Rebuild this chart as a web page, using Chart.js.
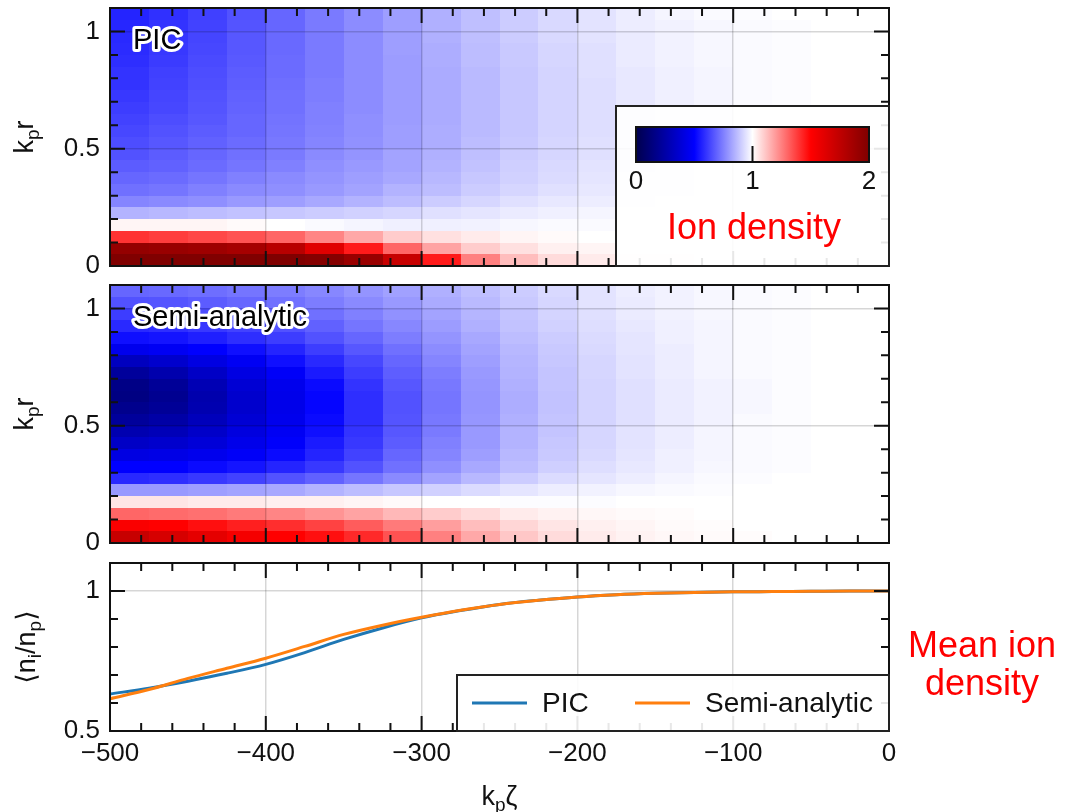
<!DOCTYPE html>
<html>
<head>
<meta charset="utf-8">
<script src="https://cdn.jsdelivr.net/npm/chart.js@4.4.0/dist/chart.umd.min.js"></script>
<style>
  html, body { margin: 0; padding: 0; background: #fff; }
  body { width: 1065px; height: 812px; position: relative; overflow: hidden; font-family: 'Liberation Sans', Arial, sans-serif; }
  canvas { position: absolute; left: 0; }
  .note { position: absolute; color: #ff0000; font-size: 36px; line-height: 38px; white-space: nowrap; }
</style>
</head>
<body>
<canvas id="picChart" width="1065" height="280" style="top:0"></canvas>
<canvas id="semiChart" width="1065" height="273" style="top:277px"></canvas>
<canvas id="meanChart" width="1065" height="262" style="top:550px"></canvas>
<div class="note" style="left:667px; top:208px;">Ion density</div>
<div class="note" style="left:902px; top:626px; width:160px; text-align:center;">Mean ion<br>density</div>
<script>
// k_p zeta: cell edges of the density maps and sample points of the mean curves
const zeta = [-500, -475, -450, -425, -400, -375, -350, -325, -300, -275, -250,
  -225, -200, -175, -150, -125, -100, -75, -50, -25, 0];
// k_p r: cell edges of the density maps
const rEdges = [0, 0.05, 0.1, 0.15, 0.2, 0.25, 0.3, 0.35, 0.4, 0.45, 0.5, 0.55,
  0.6, 0.65, 0.7, 0.75, 0.8, 0.85, 0.9, 0.95, 1.0, 1.05, 1.1];

const xTicks = [-500, -400, -300, -200, -100, 0];
const xMinorTicks = [-480, -460, -440, -420, -380, -360, -340, -320, -280, -260,
  -240, -220, -180, -160, -140, -120, -80, -60, -40, -20];
const rTicks = [0, 0.5, 1];
const rMinorTicks = [0.1, 0.2, 0.3, 0.4, 0.6, 0.7, 0.8, 0.9];
const meanTicks = [0.5, 1];
const meanMinorTicks = [0.6, 0.7, 0.8, 0.9];
const colorbarTicks = [0, 1, 2];

// ion density n_i/n_p, one row per r cell (bottom to top), one value per zeta cell
const picDensity = [
  [2.0, 2.0, 2.0, 2.0, 2.0, 1.98, 1.9, 1.72, 1.45, 1.25, 1.13, 1.07, 1.04, 1.03, 1.02, 1.01, 1.01, 1.0, 1.0, 1.0],
  [1.92, 1.9, 1.88, 1.85, 1.78, 1.62, 1.45, 1.3, 1.18, 1.1, 1.06, 1.03, 1.02, 1.01, 1.01, 1.0, 1.0, 1.0, 1.0, 1.0],
  [1.4, 1.38, 1.36, 1.34, 1.3, 1.24, 1.17, 1.1, 1.06, 1.04, 1.02, 1.01, 1.0, 1.0, 1.0, 1.0, 1.0, 1.0, 1.0, 1.0],
  [1.02, 1.02, 1.02, 1.01, 1.0, 0.99, 0.98, 0.97, 0.97, 0.975, 0.985, 0.99, 0.99, 0.995, 1.0, 1.0, 1.0, 1.0, 1.0, 1.0],
  [0.85, 0.86, 0.87, 0.88, 0.89, 0.9, 0.91, 0.92, 0.94, 0.95, 0.96, 0.97, 0.98, 0.985, 0.99, 0.995, 1.0, 1.0, 1.0, 1.0],
  [0.76, 0.77, 0.78, 0.8, 0.81, 0.83, 0.85, 0.87, 0.9, 0.92, 0.94, 0.955, 0.965, 0.975, 0.985, 0.99, 0.995, 1.0, 1.0, 1.0],
  [0.72, 0.73, 0.75, 0.77, 0.78, 0.8, 0.82, 0.85, 0.87, 0.9, 0.92, 0.94, 0.955, 0.97, 0.98, 0.99, 0.995, 1.0, 1.0, 1.0],
  [0.7, 0.71, 0.73, 0.75, 0.77, 0.79, 0.81, 0.83, 0.86, 0.89, 0.91, 0.93, 0.95, 0.965, 0.975, 0.985, 0.99, 0.995, 1.0, 1.0],
  [0.68, 0.69, 0.71, 0.73, 0.75, 0.78, 0.8, 0.82, 0.85, 0.88, 0.905, 0.925, 0.945, 0.96, 0.975, 0.985, 0.99, 0.995, 1.0, 1.0],
  [0.66, 0.68, 0.7, 0.72, 0.74, 0.77, 0.79, 0.82, 0.845, 0.875, 0.9, 0.92, 0.94, 0.96, 0.97, 0.98, 0.99, 0.995, 1.0, 1.0],
  [0.65, 0.67, 0.69, 0.71, 0.735, 0.76, 0.785, 0.81, 0.84, 0.87, 0.895, 0.92, 0.94, 0.955, 0.97, 0.98, 0.99, 0.995, 1.0, 1.0],
  [0.64, 0.66, 0.68, 0.7, 0.73, 0.755, 0.78, 0.81, 0.84, 0.865, 0.89, 0.915, 0.935, 0.955, 0.97, 0.98, 0.99, 0.995, 1.0, 1.0],
  [0.63, 0.65, 0.67, 0.7, 0.725, 0.75, 0.78, 0.805, 0.835, 0.865, 0.89, 0.915, 0.935, 0.955, 0.97, 0.98, 0.99, 0.995, 1.0, 1.0],
  [0.62, 0.64, 0.665, 0.695, 0.72, 0.75, 0.775, 0.805, 0.835, 0.865, 0.89, 0.915, 0.935, 0.955, 0.97, 0.98, 0.99, 0.995, 1.0, 1.0],
  [0.61, 0.635, 0.66, 0.69, 0.72, 0.745, 0.775, 0.805, 0.835, 0.865, 0.89, 0.915, 0.935, 0.955, 0.97, 0.98, 0.99, 0.995, 1.0, 1.0],
  [0.6, 0.63, 0.655, 0.685, 0.715, 0.745, 0.775, 0.805, 0.835, 0.865, 0.89, 0.915, 0.935, 0.955, 0.97, 0.98, 0.99, 0.995, 1.0, 1.0],
  [0.6, 0.625, 0.65, 0.68, 0.71, 0.74, 0.775, 0.805, 0.835, 0.865, 0.89, 0.915, 0.94, 0.955, 0.97, 0.98, 0.99, 0.995, 1.0, 1.0],
  [0.59, 0.615, 0.645, 0.675, 0.71, 0.74, 0.775, 0.805, 0.84, 0.87, 0.895, 0.92, 0.94, 0.96, 0.975, 0.985, 0.99, 0.995, 1.0, 1.0],
  [0.585, 0.61, 0.64, 0.67, 0.705, 0.74, 0.775, 0.81, 0.84, 0.87, 0.895, 0.92, 0.94, 0.96, 0.975, 0.985, 0.99, 0.995, 1.0, 1.0],
  [0.58, 0.605, 0.635, 0.67, 0.705, 0.74, 0.775, 0.81, 0.845, 0.875, 0.9, 0.925, 0.945, 0.96, 0.975, 0.985, 0.99, 0.995, 1.0, 1.0],
  [0.575, 0.6, 0.63, 0.665, 0.7, 0.74, 0.775, 0.81, 0.845, 0.875, 0.9, 0.925, 0.945, 0.965, 0.975, 0.985, 0.99, 0.995, 1.0, 1.0],
  [0.57, 0.595, 0.625, 0.66, 0.7, 0.74, 0.775, 0.81, 0.845, 0.875, 0.9, 0.925, 0.945, 0.965, 0.98, 0.99, 0.995, 1.0, 1.0, 1.0]
];

const semiDensity = [
  [1.72, 1.66, 1.6, 1.54, 1.5, 1.47, 1.42, 1.34, 1.25, 1.17, 1.11, 1.07, 1.04, 1.025, 1.015, 1.01, 1.005, 1.0, 1.0, 1.0],
  [1.52, 1.5, 1.47, 1.44, 1.41, 1.37, 1.32, 1.26, 1.19, 1.13, 1.08, 1.05, 1.03, 1.02, 1.01, 1.005, 1.0, 1.0, 1.0, 1.0],
  [1.3, 1.29, 1.28, 1.26, 1.24, 1.21, 1.18, 1.14, 1.1, 1.07, 1.04, 1.025, 1.015, 1.01, 1.005, 1.0, 1.0, 1.0, 1.0, 1.0],
  [1.05, 1.05, 1.04, 1.04, 1.03, 1.03, 1.02, 1.01, 1.0, 1.0, 0.995, 0.995, 0.995, 1.0, 1.0, 1.0, 1.0, 1.0, 1.0, 1.0],
  [0.8, 0.8, 0.81, 0.82, 0.83, 0.85, 0.87, 0.89, 0.91, 0.93, 0.95, 0.965, 0.975, 0.985, 0.99, 0.995, 1.0, 1.0, 1.0, 1.0],
  [0.58, 0.59, 0.61, 0.63, 0.66, 0.69, 0.73, 0.77, 0.82, 0.86, 0.9, 0.93, 0.95, 0.965, 0.98, 0.99, 0.995, 1.0, 1.0, 1.0],
  [0.5, 0.5, 0.52, 0.54, 0.57, 0.61, 0.66, 0.72, 0.78, 0.83, 0.87, 0.905, 0.935, 0.955, 0.97, 0.985, 0.99, 0.995, 1.0, 1.0],
  [0.42, 0.43, 0.45, 0.48, 0.52, 0.57, 0.63, 0.7, 0.76, 0.81, 0.86, 0.895, 0.925, 0.95, 0.97, 0.98, 0.99, 0.995, 1.0, 1.0],
  [0.34, 0.36, 0.39, 0.44, 0.49, 0.55, 0.61, 0.68, 0.75, 0.8, 0.85, 0.89, 0.92, 0.945, 0.965, 0.98, 0.99, 0.995, 1.0, 1.0],
  [0.28, 0.3, 0.35, 0.41, 0.47, 0.53, 0.6, 0.67, 0.74, 0.8, 0.85, 0.885, 0.92, 0.945, 0.965, 0.98, 0.99, 0.995, 1.0, 1.0],
  [0.22, 0.25, 0.31, 0.38, 0.45, 0.52, 0.59, 0.665, 0.735, 0.795, 0.845, 0.885, 0.915, 0.94, 0.96, 0.975, 0.99, 0.995, 1.0, 1.0],
  [0.18, 0.21, 0.28, 0.36, 0.44, 0.51, 0.59, 0.66, 0.73, 0.79, 0.84, 0.88, 0.915, 0.94, 0.96, 0.975, 0.985, 0.995, 1.0, 1.0],
  [0.15, 0.19, 0.27, 0.36, 0.44, 0.51, 0.59, 0.66, 0.73, 0.79, 0.84, 0.88, 0.915, 0.94, 0.96, 0.975, 0.985, 0.995, 1.0, 1.0],
  [0.16, 0.21, 0.29, 0.38, 0.45, 0.52, 0.6, 0.67, 0.735, 0.795, 0.845, 0.885, 0.915, 0.94, 0.96, 0.975, 0.985, 0.995, 1.0, 1.0],
  [0.22, 0.27, 0.34, 0.42, 0.48, 0.55, 0.62, 0.685, 0.745, 0.8, 0.85, 0.885, 0.92, 0.945, 0.965, 0.98, 0.99, 0.995, 1.0, 1.0],
  [0.32, 0.36, 0.42, 0.47, 0.53, 0.58, 0.64, 0.7, 0.76, 0.81, 0.855, 0.89, 0.92, 0.945, 0.965, 0.98, 0.99, 0.995, 1.0, 1.0],
  [0.45, 0.47, 0.5, 0.53, 0.57, 0.62, 0.67, 0.72, 0.775, 0.82, 0.86, 0.895, 0.925, 0.95, 0.965, 0.98, 0.99, 0.995, 1.0, 1.0],
  [0.53, 0.54, 0.56, 0.59, 0.62, 0.66, 0.7, 0.745, 0.79, 0.83, 0.87, 0.9, 0.93, 0.95, 0.97, 0.98, 0.99, 0.995, 1.0, 1.0],
  [0.58, 0.59, 0.61, 0.63, 0.66, 0.69, 0.73, 0.765, 0.805, 0.845, 0.88, 0.91, 0.935, 0.955, 0.97, 0.98, 0.99, 0.995, 1.0, 1.0],
  [0.62, 0.63, 0.65, 0.67, 0.69, 0.72, 0.75, 0.785, 0.82, 0.855, 0.885, 0.915, 0.94, 0.96, 0.975, 0.985, 0.99, 0.995, 1.0, 1.0],
  [0.66, 0.665, 0.68, 0.7, 0.72, 0.745, 0.77, 0.8, 0.835, 0.865, 0.895, 0.92, 0.945, 0.96, 0.975, 0.985, 0.99, 0.995, 1.0, 1.0],
  [0.7, 0.705, 0.715, 0.73, 0.745, 0.765, 0.79, 0.815, 0.845, 0.875, 0.9, 0.925, 0.945, 0.965, 0.975, 0.985, 0.99, 0.995, 1.0, 1.0]
];

// mean ion density <n_i/n_p> at each zeta
const picMean = [0.632, 0.653, 0.678, 0.706, 0.738, 0.78, 0.827, 0.868, 0.904, 0.93, 0.952,
  0.967, 0.979, 0.987, 0.992, 0.995, 0.997, 0.998, 0.999, 1.0, 1.0];
const semiMean = [0.615, 0.648, 0.688, 0.724, 0.76, 0.802, 0.845, 0.878, 0.906, 0.931, 0.952,
  0.967, 0.979, 0.987, 0.992, 0.995, 0.997, 0.998, 0.999, 1.0, 1.0];

// axis titles, split into normal / subscript pieces
const radiusTitle = [['k'], ['p', 'sub'], ['r']];
const meanTitle = [['\u27E8n'], ['i', 'sub'], ['/n'], ['p', 'sub'], ['\u27E9']];
const zetaTitle = [['k'], ['p', 'sub'], ['\u03B6']];

const FONT = "'Liberation Sans', 'DejaVu Sans', sans-serif";
Chart.defaults.font.family = FONT;
Chart.defaults.color = '#111';
Chart.defaults.animation = false;

const gridColor = 'rgba(0,0,0,0.16)';

// matplotlib "seismic" colormap, density range 0..2
function seismic(v) {
  const t = Math.min(1, Math.max(0, v / 2));
  let r, g, b;
  if (t < 0.25) { r = 0; g = 0; b = 0.3 + 0.7 * t / 0.25; }
  else if (t < 0.5) { r = g = (t - 0.25) / 0.25; b = 1; }
  else if (t < 0.75) { r = 1; g = b = 1 - (t - 0.5) / 0.25; }
  else { r = 1 - 0.5 * (t - 0.75) / 0.25; g = b = 0; }
  return `rgb(${Math.round(r * 255)},${Math.round(g * 255)},${Math.round(b * 255)})`;
}

// text with subscripts, centred on x, baseline at y (in the current transform)
function drawRich(ctx, parts, x, y, size) {
  const subSize = Math.round(size * 0.7);
  const fontOf = p => `${p[1] ? subSize : size}px ${FONT}`;
  let total = 0;
  parts.forEach(p => { ctx.font = fontOf(p); total += ctx.measureText(p[0]).width; });
  let cx = x - total / 2;
  ctx.textAlign = 'left';
  ctx.textBaseline = 'alphabetic';
  parts.forEach(p => {
    ctx.font = fontOf(p);
    ctx.fillText(p[0], cx, p[1] ? y + size * 0.22 : y);
    cx += ctx.measureText(p[0]).width;
  });
}

function heatmapLayer(grid) {
  return {
    id: 'heatmap',
    beforeDraw(chart) {
      const { ctx, scales: { x, y } } = chart;
      ctx.save();
      grid.forEach((row, i) => {
        const top = Math.round(y.getPixelForValue(rEdges[i + 1]));
        const bottom = Math.round(y.getPixelForValue(rEdges[i]));
        row.forEach((v, j) => {
          const left = Math.round(x.getPixelForValue(zeta[j]));
          const right = Math.round(x.getPixelForValue(zeta[j + 1]));
          ctx.fillStyle = seismic(v);
          ctx.fillRect(left, top, right - left, bottom - top);
        });
      });
      ctx.restore();
    }
  };
}

// black frame with inward ticks on all four sides, plus axis titles
function frameLayer(yMajor, yMinor, yTitle, yTitleX, xTitle) {
  return {
    id: 'frame',
    afterDraw(chart) {
      const { ctx, chartArea: a, scales: { x, y } } = chart;
      ctx.save();
      ctx.strokeStyle = '#111';
      ctx.lineWidth = 2;
      ctx.beginPath();
      [[xTicks, 15], [xMinorTicks, 8]].forEach(([vals, len]) => {
        vals.forEach(v => {
          const px = x.getPixelForValue(v);
          ctx.moveTo(px, a.top); ctx.lineTo(px, a.top + len);
          ctx.moveTo(px, a.bottom); ctx.lineTo(px, a.bottom - len);
        });
      });
      [[yMajor, 15], [yMinor, 8]].forEach(([vals, len]) => {
        vals.forEach(v => {
          const py = y.getPixelForValue(v);
          ctx.moveTo(a.left, py); ctx.lineTo(a.left + len, py);
          ctx.moveTo(a.right, py); ctx.lineTo(a.right - len, py);
        });
      });
      ctx.stroke();
      ctx.strokeRect(a.left, a.top, a.right - a.left, a.bottom - a.top);

      ctx.fillStyle = '#111';
      ctx.save();
      ctx.translate(yTitleX, (a.top + a.bottom) / 2);
      ctx.rotate(-Math.PI / 2);
      drawRich(ctx, yTitle, 0, 0, 27);
      ctx.restore();
      if (xTitle) drawRich(ctx, xTitle, (a.left + a.right) / 2, chart.height - 7, 27);
      ctx.restore();
    }
  };
}

function panelLabel(text) {
  return {
    id: 'panelLabel',
    afterDraw(chart) {
      const { ctx, chartArea: a } = chart;
      ctx.save();
      ctx.font = `29px ${FONT}`;
      ctx.textBaseline = 'middle';
      ctx.lineJoin = 'round';
      ctx.lineWidth = 6;
      ctx.strokeStyle = '#fff';
      ctx.strokeText(text, a.left + 23, a.top + 33);
      ctx.fillStyle = '#000';
      ctx.fillText(text, a.left + 23, a.top + 33);
      ctx.restore();
    }
  };
}

const colorbarLayer = {
  id: 'colorbar',
  afterDraw(chart) {
    const { ctx, chartArea: a } = chart;
    const boxL = a.right - 273, boxT = a.bottom - 160;
    ctx.save();
    ctx.fillStyle = 'rgba(255,255,255,0.9)';
    ctx.fillRect(boxL, boxT, a.right - boxL, a.bottom - boxT);
    ctx.strokeStyle = '#222';
    ctx.lineWidth = 2;
    ctx.strokeRect(boxL, boxT, a.right - boxL, a.bottom - boxT);
    const barL = boxL + 20, barR = boxL + 253, barT = boxT + 21, barB = boxT + 56;
    const grad = ctx.createLinearGradient(barL, 0, barR, 0);
    [0, 0.5, 1, 1.5, 2].forEach(v => grad.addColorStop(v / 2, seismic(v)));
    ctx.fillStyle = grad;
    ctx.fillRect(barL, barT, barR - barL, barB - barT);
    ctx.strokeStyle = '#111';
    ctx.strokeRect(barL, barT, barR - barL, barB - barT);
    ctx.font = `26px ${FONT}`;
    ctx.fillStyle = '#111';
    ctx.textAlign = 'center';
    ctx.textBaseline = 'middle';
    colorbarTicks.forEach(v => {
      const px = barL + (v / 2) * (barR - barL);
      if (v > 0 && v < 2) {
        ctx.beginPath();
        ctx.moveTo(px, barB - 16); ctx.lineTo(px, barB);
        ctx.stroke();
      }
      ctx.fillText(String(v), px, barB + 20);
    });
    ctx.restore();
  }
};

const meanLegend = {
  id: 'meanLegend',
  afterDraw(chart) {
    const { ctx, chartArea: a } = chart;
    const boxL = a.right - 432, boxT = a.bottom - 56;
    ctx.save();
    ctx.fillStyle = 'rgba(255,255,255,0.9)';
    ctx.fillRect(boxL, boxT, a.right - boxL, a.bottom - boxT);
    ctx.strokeStyle = '#222';
    ctx.lineWidth = 2;
    ctx.strokeRect(boxL, boxT, a.right - boxL, a.bottom - boxT);
    const cy = boxT + 28;
    const slots = [15, 178];
    ctx.font = `28px ${FONT}`;
    ctx.textBaseline = 'middle';
    chart.data.datasets.forEach((ds, i) => {
      const sx = boxL + slots[i];
      ctx.strokeStyle = ds.borderColor;
      ctx.lineWidth = 3;
      ctx.beginPath();
      ctx.moveTo(sx, cy); ctx.lineTo(sx + 55, cy);
      ctx.stroke();
      ctx.fillStyle = '#111';
      ctx.fillText(ds.label, sx + 70, cy + 1);
    });
    ctx.restore();
  }
};

const tickList = list => s => { s.ticks = list.map(v => ({ value: v })); };
// fixed axis sizes, no extra label padding, so the plot areas line up
const fixWidth = w => s => { s.width = w; s.paddingTop = 0; s.paddingBottom = 0; };
const fixHeight = h => s => { s.height = h; s.paddingLeft = 0; s.paddingRight = 0; };

function densityChart(id, grid, label, height, extra) {
  return new Chart(document.getElementById(id), {
    type: 'scatter',
    data: { datasets: [] },
    options: {
      responsive: false,
      events: [],
      layout: { padding: { left: 0, right: 176, top: 8, bottom: height - 266 } },
      plugins: { legend: { display: false }, tooltip: { enabled: false } },
      scales: {
        x: {
          type: 'linear', min: -500, max: 0,
          afterBuildTicks: tickList(xTicks),
          afterFit: fixHeight(0),
          ticks: { display: false },
          grid: { color: gridColor, lineWidth: 1.5, drawTicks: false },
          border: { display: false }
        },
        y: {
          type: 'linear', min: 0, max: 1.1,
          afterBuildTicks: tickList(rTicks),
          afterFit: fixWidth(110),
          ticks: { padding: 10, font: { size: 26 }, callback: v => String(v) },
          grid: { color: gridColor, lineWidth: 1.5, drawTicks: false },
          border: { display: false }
        }
      }
    },
    plugins: [heatmapLayer(grid), frameLayer(rTicks, rMinorTicks, radiusTitle, 33, null),
      panelLabel(label), ...extra]
  });
}

densityChart('picChart', picDensity, 'PIC', 280, [colorbarLayer]);
densityChart('semiChart', semiDensity, 'Semi-analytic', 273, []);

new Chart(document.getElementById('meanChart'), {
  type: 'line',
  data: {
    datasets: [
      {
        label: 'PIC',
        data: zeta.map((z, i) => ({ x: z, y: picMean[i] })),
        borderColor: '#1f77b4', borderWidth: 3, pointRadius: 0,
        cubicInterpolationMode: 'monotone', order: 1
      },
      {
        label: 'Semi-analytic',
        data: zeta.map((z, i) => ({ x: z, y: semiMean[i] })),
        borderColor: '#ff7f0e', borderWidth: 3, pointRadius: 0,
        cubicInterpolationMode: 'monotone', order: 0
      }
    ]
  },
  options: {
    responsive: false,
    events: [],
    layout: { padding: { left: 0, right: 176, top: 13, bottom: 0 } },
    plugins: { legend: { display: false }, tooltip: { enabled: false } },
    scales: {
      x: {
        type: 'linear', min: -500, max: 0,
        afterBuildTicks: tickList(xTicks),
        afterFit: fixHeight(81),
        ticks: {
          padding: 7, font: { size: 26 }, autoSkip: false, maxRotation: 0,
          callback: v => (v < 0 ? '\u2212' + (-v) : String(v))
        },
        grid: { color: gridColor, lineWidth: 1.5, drawTicks: false },
        border: { display: false }
      },
      y: {
        type: 'linear', min: 0.5, max: 1.1,
        afterBuildTicks: tickList(meanTicks),
        afterFit: fixWidth(110),
        ticks: { padding: 10, font: { size: 26 }, callback: v => String(v) },
        grid: { color: gridColor, lineWidth: 1.5, drawTicks: false },
        border: { display: false }
      }
    }
  },
  plugins: [frameLayer(meanTicks, meanMinorTicks, meanTitle, 35, zetaTitle), meanLegend]
});
</script>
</body>
</html>
